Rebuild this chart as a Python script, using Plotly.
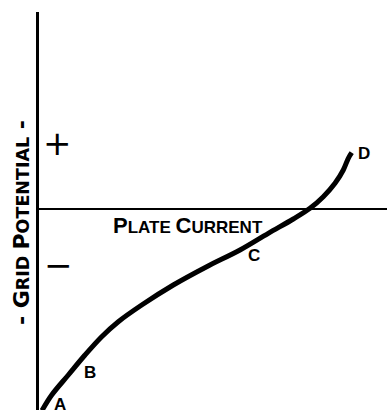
import plotly.graph_objects as go

# Characteristic curve of a triode: plate current against grid potential
plate_current = [3, 12.7, 29.3, 46, 62.7, 79.3, 102.7, 134.3, 167.7, 201, 229.3,
                 254.3, 271, 284.3, 296, 304.3, 309.3, 312.7]
grid_potential = [-202, -186.5, -166.5, -146.5, -128.2, -113.2, -96.5, -76.5, -58.2,
                  -41.5, -24.8, -10.5, 0.2, 11.8, 25.2, 38.5, 50.2, 55.8]

point_names = ["A", "B", "C", "D"]
point_x = [21, 51, 215, 325]
point_y = [-195.5, -163.5, -46.5, 55.5]

FONT = "Liberation Sans"
X_MAX = 348


def small_caps(word_list, big=22, small=17):
    parts = []
    for w in word_list:
        parts.append(f"<span style='font-size:{big}px'>{w[0]}</span>"
                     f"<span style='font-size:{small}px'>{w[1:]}</span>")
    return " ".join(parts)


fig = go.Figure()
fig.add_trace(go.Scatter(
    x=plate_current, y=grid_potential, mode="lines",
    line=dict(color="black", width=5, shape="spline", smoothing=1.0),
    cliponaxis=False, hoverinfo="skip", showlegend=False,
))

annotations = []
for name, px, py in zip(point_names, point_x, point_y):
    annotations.append(dict(x=px, y=py, xref="x", yref="y", text=f"<b>{name}</b>",
                            showarrow=False, font=dict(family=FONT, size=17, color="black")))

annotations.append(dict(x=18, y=65.5, xref="x", yref="y", text="+", showarrow=False,
                        font=dict(family="DejaVu Sans", size=34, color="black")))
annotations.append(dict(x=19, y=-56.5, xref="x", yref="y", text="\u2212", showarrow=False,
                        font=dict(family="DejaVu Sans", size=34, color="black")))
annotations.append(dict(x=149, y=-16.5, xref="x", yref="y",
                        text="<b>" + small_caps(["PLATE", "CURRENT"]) + "</b>",
                        showarrow=False, font=dict(family=FONT, size=17, color="black")))
annotations.append(dict(x=-18 / X_MAX, y=-14.5, xref="paper", yref="y", textangle=-90,
                        xanchor="center", yanchor="middle",
                        text="<b><span style='font-size:22px'>- G</span>"
                             "<span style='font-size:17.5px'>RID</span> "
                             "<span style='font-size:22px'>P</span>"
                             "<span style='font-size:17.5px'>OTENTIAL</span>"
                             "<span style='font-size:22px'> -</span></b>",
                        showarrow=False,
                        font=dict(family="DejaVu Sans", size=17.5, color="black")))

fig.update_layout(
    width=387, height=414,
    margin=dict(l=39, r=0, t=12, b=4),
    paper_bgcolor="white", plot_bgcolor="white",
    xaxis=dict(range=[0, X_MAX], showgrid=False, zeroline=False, showticklabels=False,
               ticks="", showline=False),
    yaxis=dict(range=[-201.5, 196.5], showgrid=False, showticklabels=False, ticks="",
               zeroline=True, zerolinecolor="black", zerolinewidth=2,
               showline=True, linecolor="black", linewidth=2.5),
    annotations=annotations,
)

fig.write_html("out.html")
